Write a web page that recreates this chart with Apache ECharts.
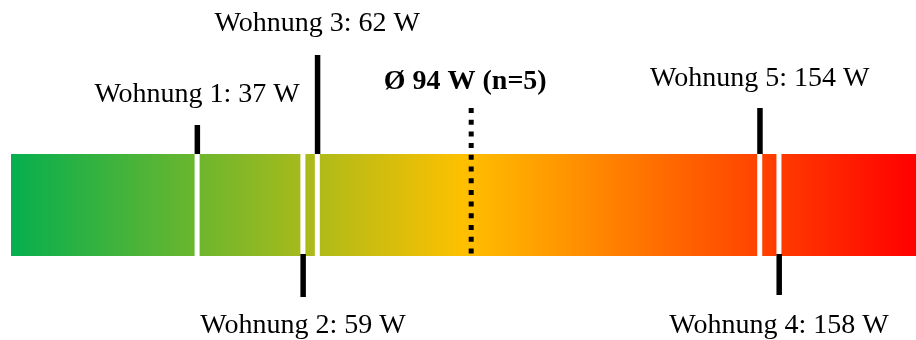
<!DOCTYPE html>
<html>
<head>
<meta charset="utf-8">
<script src="https://cdn.jsdelivr.net/npm/echarts@6/dist/echarts.min.js"></script>
<style>
html,body{margin:0;padding:0;background:#fff;}
#chart{width:916px;height:340px;}
</style>
</head>
<body>
<div id="chart"></div>
<script>
// ---- data ----
const apartments = ['Wohnung 1', 'Wohnung 2', 'Wohnung 3', 'Wohnung 4', 'Wohnung 5'];
const watts = [37, 59, 62, 158, 154];
const average = 94;
const sampleSize = 5;
const scaleMin = -1.7;
const scaleMax = 186.5;

// ---- styling / layout (pixels) ----
const stemLayout = [
  { side: 'up',   stem: 29, label: 59 },
  { side: 'down', stem: 41, label: 70 },
  { side: 'up',   stem: 99, label: 130 },
  { side: 'down', stem: 39, label: 70 },
  { side: 'up',   stem: 46, label: 75 }
];
const avgLayout = { stem: 46, label: 72 };
const FONT = '28px "Liberation Serif", "DejaVu Serif", serif';
const BOLD_FONT = 'bold 28px "Liberation Serif", "DejaVu Serif", serif';

const chart = echarts.init(document.getElementById('chart'), null, { renderer: 'canvas' });

const option = {
  animation: false,
  grid: { left: 11, right: 0, top: 154, bottom: 84 },
  xAxis: { type: 'value', min: scaleMin, max: scaleMax, show: false },
  yAxis: { type: 'value', min: 0, max: 1, show: false },
  series: [
    {
      type: 'custom',
      clip: false,
      data: [[scaleMin, scaleMax]],
      renderItem: function (params, api) {
        const p0 = api.coord([api.value(0), 1]);
        const p1 = api.coord([api.value(1), 0]);
        return {
          type: 'rect',
          shape: { x: p0[0], y: p0[1], width: p1[0] - p0[0], height: p1[1] - p0[1] },
          style: {
            fill: new echarts.graphic.LinearGradient(0, 0, 1, 0, [
              { offset: 0, color: '#05AF4E' },
              { offset: 0.5, color: '#FFC000' },
              { offset: 1, color: '#FF0000' }
            ])
          }
        };
      }
    },
    {
      type: 'custom',
      clip: false,
      data: watts.map((w, i) => [w, i]),
      renderItem: function (params, api) {
        const i = params.dataIndex;
        const lay = stemLayout[i];
        const x = api.coord([api.value(0), 0])[0];
        const top = api.coord([api.value(0), 1])[1];
        const bottom = api.coord([api.value(0), 0])[1];
        const children = [
          { type: 'rect', shape: { x: x - 2.5, y: top, width: 5, height: bottom - top }, style: { fill: '#fff' } }
        ];
        let labelY;
        if (lay.side === 'up') {
          children.push({ type: 'rect', shape: { x: x - 2.5, y: top - lay.stem, width: 5.5, height: lay.stem }, style: { fill: '#000' } });
          labelY = top - lay.label;
        } else {
          children.push({ type: 'rect', shape: { x: x - 2.5, y: bottom - 2, width: 5.5, height: lay.stem + 2 }, style: { fill: '#000' } });
          labelY = bottom + lay.label;
        }
        children.push({
          type: 'text',
          style: {
            text: apartments[i] + ': ' + watts[i] + ' W',
            x: x, y: labelY, align: 'center', verticalAlign: 'middle',
            font: FONT, fill: '#000'
          }
        });
        return { type: 'group', children: children };
      }
    },
    {
      type: 'custom',
      clip: false,
      data: [[average]],
      renderItem: function (params, api) {
        const x = api.coord([api.value(0), 0])[0];
        const top = api.coord([api.value(0), 1])[1];
        const bottom = api.coord([api.value(0), 0])[1];
        return {
          type: 'group',
          children: [
            {
              type: 'line',
              shape: { x1: x, y1: top - avgLayout.stem, x2: x, y2: bottom },
              style: { stroke: '#000', lineWidth: 5, lineDash: [5, 6.7], lineCap: 'butt' }
            },
            {
              type: 'text',
              style: {
                text: 'Ø ' + average + ' W (n=' + sampleSize + ')',
                x: x - 6, y: top - avgLayout.label, align: 'center', verticalAlign: 'middle',
                font: BOLD_FONT, fill: '#000'
              }
            }
          ]
        };
      }
    }
  ]
};
chart.setOption(option);
</script>
</body>
</html>
